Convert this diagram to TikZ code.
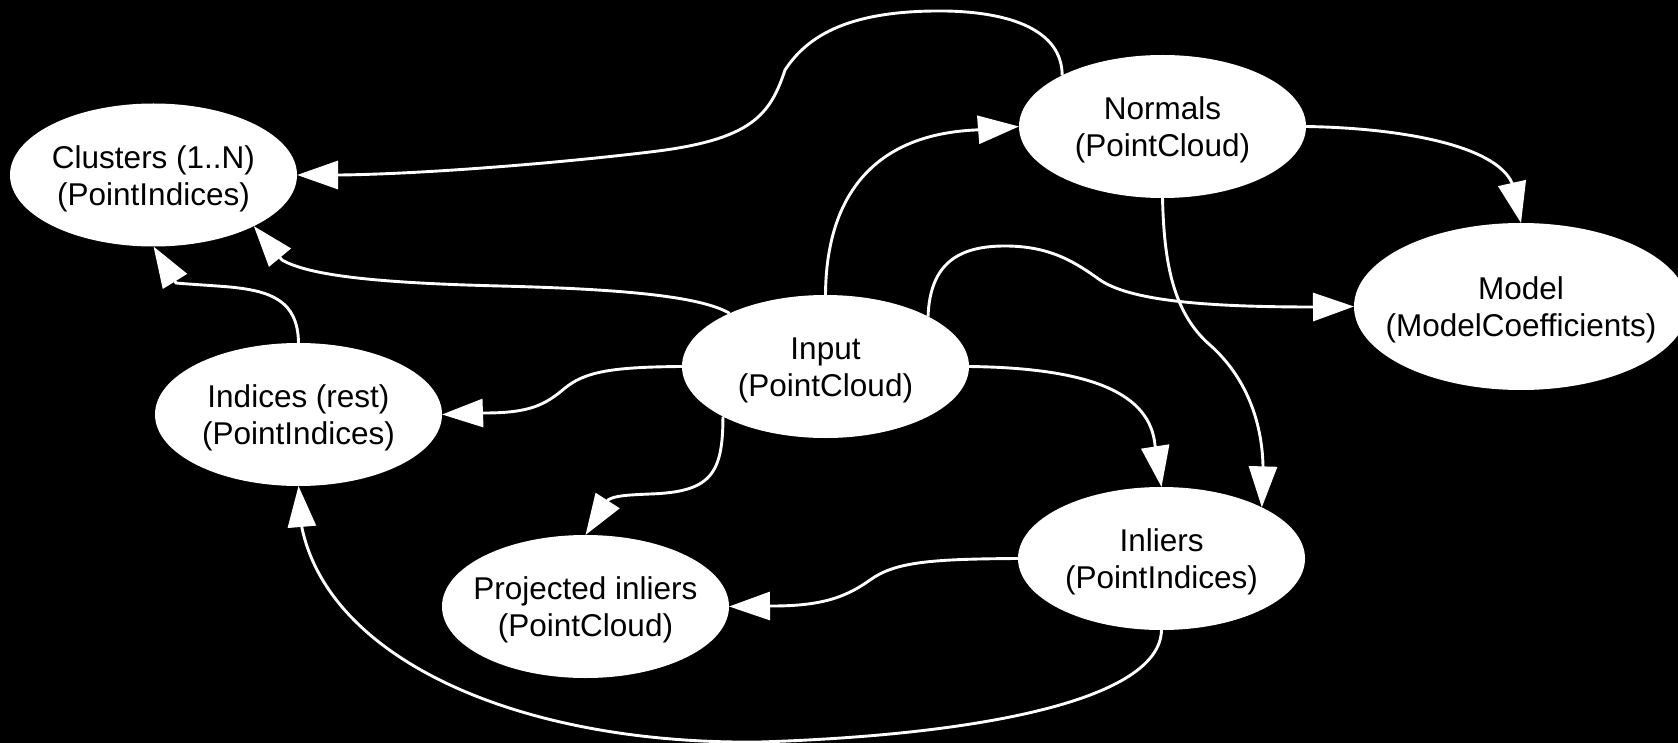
\documentclass[tikz,border=0pt]{standalone}
\usepackage{fontspec}
\setmainfont{Liberation Sans}
\usetikzlibrary{shapes.geometric,arrows.meta}
\begin{document}
\begin{tikzpicture}[x=1pt,y=-1pt,
  gnode/.style={ellipse, fill=white, draw=none, inner sep=0pt, outer sep=0pt, minimum width=287pt, minimum height=143pt},
  lbl/.style={align=center, text=black, inner sep=0pt, yshift=-3.5pt, font=\fontsize{31.5}{37}\selectfont},
  conn/.style={draw=white, line width=2.9pt, -{Triangle[length=41pt,width=28pt]}}]
\fill[black] (0,0) rectangle (1678,743);
\useasboundingbox (0,0) rectangle (1678,743);

% nodes
\node[gnode] (cl) at (153.5,175) {};
\node[gnode] (nm) at (1162.5,126.5) {};
\node[gnode, minimum width=334pt, minimum height=167pt] (md) at (1521,306.5) {};
\node[gnode] (inp) at (825.5,366.5) {};
\node[gnode] (ix) at (298.5,414.5) {};
\node[gnode] (il) at (1161.5,558.5) {};
\node[gnode] (pj) at (585.5,606.5) {};

\node[lbl] (cl-t) at (cl) {Clusters (1..N)\\(PointIndices)};
\node[lbl] (nm-t) at (nm) {Normals\\(PointCloud)};
\node[lbl] (md-t) at (md) {Model\\(ModelCoefficients)};
\node[lbl] (inp-t) at (inp) {Input\\(PointCloud)};
\node[lbl] (ix-t) at (ix) {Indices (rest)\\(PointIndices)};
\node[lbl] (il-t) at (il) {Inliers\\(PointIndices)};
\node[lbl] (pj-t) at (pj) {Projected inliers\\(PointCloud)};

% edges
% Normals -> Clusters
\draw[conn] (nm.153) .. controls (1062,30) and (1010,12) .. (945,11)
  .. controls (850,10) and (808,35) .. (785,70)
  .. controls (770,115) and (752,140) .. (650,152)
  .. controls (550,164) and (420,174) .. (340,175) -- (cl.0);
% Input -> Normals
\draw[conn] (inp.90) .. controls (826,200) and (870,135) .. (975,130) -- (nm.180);
% Normals -> Model
\draw[conn] (nm.0) .. controls (1400,128) and (1495,145) .. (1512,183) -- (md.90);
% Input -> Model
\draw[conn] (inp.26) .. controls (930,262) and (960,246) .. (1005,246)
  .. controls (1050,246) and (1075,262) .. (1100,280)
  .. controls (1130,300) and (1200,307) .. (1313,307) -- (md.180);
% Normals -> Inliers
\draw[conn] (nm.-90) .. controls (1164,260) and (1172,312) .. (1210,345)
  .. controls (1245,376) and (1262,420) .. (1263,466) -- (il.27);
% Input -> Inliers
\draw[conn] (inp.0) .. controls (1095,368) and (1150,395) .. (1155,445) -- (il.90);
% Inliers -> Projected
\draw[conn] (il.180) .. controls (930,559) and (895,562) .. (870,580)
  .. controls (845,598) and (820,606) .. (772,606) -- (pj.0);
% Input -> Projected
\draw[conn] (inp.206) .. controls (723,475) and (710,492) .. (650,494)
  .. controls (625,495) and (614,496) .. (608,500) -- (pj.90);
% Input -> Indices
\draw[conn] (inp.180) .. controls (610,367) and (585,372) .. (565,388)
  .. controls (545,405) and (530,413) .. (484,413) -- (ix.0);
% Input -> Clusters
\draw[conn] (inp.151) .. controls (700,296) and (620,289) .. (500,286)
  .. controls (380,283) and (310,276) .. (282,260) -- (cl.-27);
% Indices -> Clusters
\draw[conn] (ix.90) .. controls (298,300) and (270,291) .. (230,287)
  .. controls (205,285) and (186,284) .. (176,283) -- (cl.-90);
% Inliers -> Indices
\draw[conn] (il.-90) .. controls (1160,700) and (980,735) .. (760,742)
  .. controls (520,745) and (330,660) .. (302,528) -- (ix.-90);
\end{tikzpicture}
\end{document}
